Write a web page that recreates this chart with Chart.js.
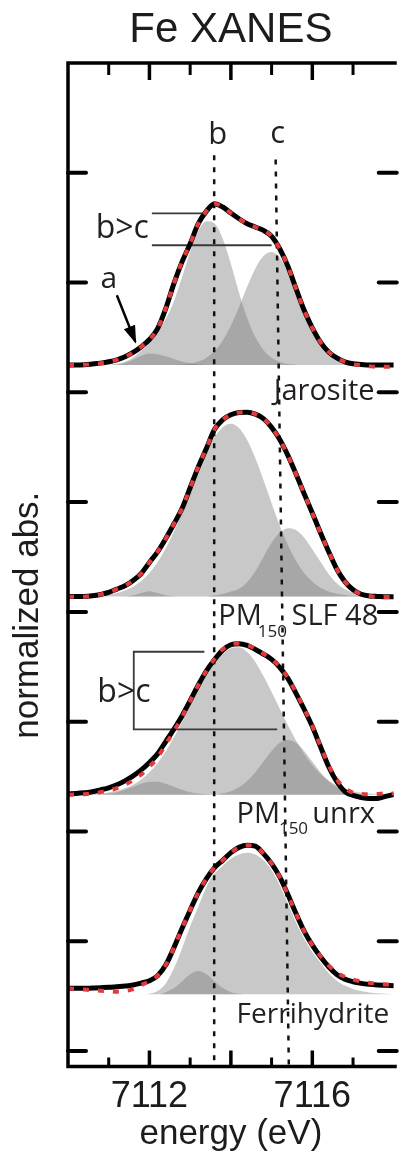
<!DOCTYPE html>
<html>
<head>
<meta charset="utf-8">
<title>Fe XANES</title>
<script src="https://cdn.jsdelivr.net/npm/chart.js@4.4.1/dist/chart.umd.min.js"></script>
<style>
  html, body { margin: 0; padding: 0; background: #fff; }
  canvas { display: block; }
</style>
</head>
<body>
<canvas id="xanesChart" width="406" height="1163"></canvas>
<script>
// energy grid (eV), shared by every trace
const energy = [7110, 7110.2, 7110.4, 7110.6, 7110.8, 7111, 7111.2, 7111.4, 7111.6, 7111.8,
  7112, 7112.2, 7112.4, 7112.6, 7112.8, 7113, 7113.2, 7113.4, 7113.6, 7113.8,
  7114, 7114.2, 7114.4, 7114.6, 7114.8, 7115, 7115.2, 7115.4, 7115.6, 7115.8,
  7116, 7116.2, 7116.4, 7116.6, 7116.8, 7117, 7117.2, 7117.4, 7117.6, 7117.8, 7118];

// vertical offset of each stacked spectrum (Jarosite, SLF 48, unrx, Ferrihydrite)
const panelOffsets = [6.248, 4.141, 2.334, 0.516];

// Jarosite
const jarositeData = [0, 0, 0.003, 0.01, 0.018, 0.03, 0.048, 0.076, 0.115, 0.167, 0.233, 0.333, 0.515, 0.742, 0.94, 1.106, 1.288, 1.403, 1.47, 1.44, 1.385, 1.333, 1.288, 1.258, 1.227, 1.173, 1.06, 0.9, 0.697, 0.5, 0.34, 0.21, 0.12, 0.065, 0.03, 0.012, 0.006, 0, 0, 0, 0];
const jarositeFit = [0, 0, 0.003, 0.01, 0.018, 0.03, 0.048, 0.076, 0.115, 0.167, 0.233, 0.333, 0.515, 0.742, 0.94, 1.106, 1.288, 1.403, 1.47, 1.44, 1.385, 1.333, 1.288, 1.258, 1.227, 1.173, 1.06, 0.9, 0.697, 0.5, 0.34, 0.21, 0.12, 0.065, 0.03, 0.008, 0, -0.01, -0.016, -0.016, -0.012];
const jarositeA = [0, 0, 0, 0, 0, 0, 0.005, 0.02, 0.05, 0.085, 0.106, 0.1, 0.08, 0.055, 0.032, 0.016, 0.007, 0.002, 0, 0, 0, 0, 0, 0, 0, 0, 0, 0, 0, 0, 0, 0, 0, 0, 0, 0, 0, 0, 0, 0, 0];
const jarositeB = [0, 0, 0, 0, 0, 0.004, 0.012, 0.03, 0.07, 0.13, 0.2, 0.3, 0.42, 0.58, 0.8, 1.03, 1.219, 1.31, 1.29, 1.15, 0.92, 0.66, 0.43, 0.255, 0.137, 0.066, 0.029, 0.011, 0.004, 0, 0, 0, 0, 0, 0, 0, 0, 0, 0, 0, 0];
const jarositeC = [0, 0, 0, 0, 0, 0, 0, 0, 0, 0, 0, 0, 0, 0, 0.005, 0.014, 0.032, 0.067, 0.128, 0.225, 0.36, 0.529, 0.713, 0.88, 0.994, 1.03, 0.977, 0.849, 0.677, 0.493, 0.33, 0.202, 0.113, 0.058, 0.028, 0.012, 0.005, 0, 0, 0, 0];

// PM150 SLF 48
const slfData = [0, 0, 0, 0.006, 0.018, 0.036, 0.067, 0.097, 0.145, 0.209, 0.31, 0.406, 0.527, 0.66, 0.8, 0.99, 1.18, 1.35, 1.523, 1.61, 1.655, 1.675, 1.678, 1.66, 1.62, 1.54, 1.43, 1.285, 1.115, 0.935, 0.76, 0.58, 0.41, 0.25, 0.135, 0.06, 0.02, 0.004, 0, -0.004, -0.004];
const slfFit = [-0.003, -0.004, -0.002, 0.006, 0.018, 0.036, 0.067, 0.097, 0.145, 0.209, 0.31, 0.406, 0.527, 0.66, 0.8, 0.99, 1.18, 1.35, 1.523, 1.61, 1.655, 1.675, 1.678, 1.66, 1.62, 1.54, 1.43, 1.285, 1.115, 0.935, 0.76, 0.58, 0.41, 0.25, 0.135, 0.06, 0.02, 0.004, -0.006, -0.006, -0.003];
const slfSmall = [0, 0, 0, 0, 0, 0, 0, 0, 0.011, 0.032, 0.048, 0.032, 0.011, 0.002, 0, 0, 0, 0, 0, 0, 0, 0, 0, 0, 0, 0, 0, 0, 0, 0, 0, 0, 0, 0, 0, 0, 0, 0, 0, 0, 0];
const slfMain = [0, 0.001, 0.002, 0.005, 0.009, 0.017, 0.031, 0.054, 0.088, 0.14, 0.213, 0.311, 0.437, 0.59, 0.766, 0.954, 1.142, 1.314, 1.452, 1.542, 1.573, 1.535, 1.425, 1.26, 1.06, 0.849, 0.647, 0.469, 0.324, 0.213, 0.133, 0.079, 0.045, 0.024, 0.012, 0.006, 0.002, 0, 0, 0, 0];
const slfC = [0, 0, 0, 0, 0, 0, 0, 0, 0, 0, 0, 0, 0, 0, 0, 0, 0, 0, 0.01, 0.022, 0.045, 0.07, 0.13, 0.23, 0.36, 0.49, 0.58, 0.622, 0.605, 0.535, 0.43, 0.315, 0.205, 0.12, 0.065, 0.032, 0.014, 0.005, 0, 0, 0];

// PM150 unrx
const unrxData = [0.009, 0.012, 0.018, 0.027, 0.045, 0.064, 0.091, 0.127, 0.173, 0.227, 0.294, 0.373, 0.485, 0.597, 0.718, 0.858, 1.0, 1.13, 1.233, 1.318, 1.367, 1.376, 1.361, 1.324, 1.282, 1.233, 1.161, 1.061, 0.924, 0.779, 0.621, 0.439, 0.258, 0.121, 0.03, -0.006, -0.024, -0.033, -0.033, -0.015, 0.003];
const unrxFit = [0, 0.003, 0.006, 0.012, 0.024, 0.039, 0.06, 0.091, 0.133, 0.185, 0.255, 0.34, 0.46, 0.58, 0.71, 0.855, 1.0, 1.13, 1.24, 1.325, 1.37, 1.378, 1.365, 1.33, 1.285, 1.235, 1.165, 1.065, 0.93, 0.785, 0.625, 0.445, 0.27, 0.14, 0.06, 0.02, 0.008, 0.006, 0.008, 0.012, 0.012];
const unrxSmall = [0, 0, 0, 0, 0, 0.011, 0.024, 0.045, 0.073, 0.101, 0.119, 0.119, 0.101, 0.073, 0.045, 0.024, 0.011, 0.004, 0, 0, 0, 0, 0, 0, 0, 0, 0, 0, 0, 0, 0, 0, 0, 0, 0, 0, 0, 0, 0, 0, 0];
const unrxMain = [0.001, 0.002, 0.004, 0.007, 0.012, 0.022, 0.036, 0.059, 0.092, 0.14, 0.205, 0.29, 0.395, 0.521, 0.663, 0.814, 0.966, 1.09, 1.195, 1.28, 1.335, 1.345, 1.3, 1.21, 1.081, 0.936, 0.783, 0.633, 0.494, 0.372, 0.271, 0.19, 0.129, 0.085, 0.054, 0.033, 0.019, 0.011, 0.006, 0.003, 0.002];
const unrxC = [0, 0, 0, 0, 0, 0, 0, 0, 0, 0, 0, 0, 0, 0, 0, 0, 0, 0, 0, 0.014, 0.033, 0.068, 0.125, 0.206, 0.303, 0.4, 0.473, 0.5, 0.473, 0.4, 0.303, 0.206, 0.125, 0.068, 0.033, 0.014, 0.005, 0, 0, 0, 0];

// Ferrihydrite
const ferriData = [0.055, 0.055, 0.055, 0.058, 0.061, 0.064, 0.07, 0.076, 0.085, 0.103, 0.124, 0.17, 0.267, 0.424, 0.6, 0.767, 0.927, 1.055, 1.155, 1.221, 1.291, 1.339, 1.358, 1.35, 1.282, 1.191, 1.07, 0.909, 0.736, 0.576, 0.448, 0.342, 0.252, 0.182, 0.139, 0.115, 0.1, 0.091, 0.085, 0.082, 0.079];
const ferriFit = [0.055, 0.05, 0.044, 0.038, 0.033, 0.03, 0.025, 0.03, 0.048, 0.085, 0.12, 0.17, 0.267, 0.424, 0.6, 0.767, 0.927, 1.055, 1.155, 1.221, 1.291, 1.339, 1.358, 1.35, 1.282, 1.191, 1.07, 0.909, 0.736, 0.576, 0.448, 0.35, 0.265, 0.2, 0.16, 0.135, 0.118, 0.105, 0.095, 0.09, 0.085];
const ferriSmall = [0, 0, 0, 0, 0, 0, 0, 0, 0, 0, 0, 0, 0.02, 0.057, 0.118, 0.183, 0.212, 0.183, 0.118, 0.057, 0.02, 0.005, 0, 0, 0, 0, 0, 0, 0, 0, 0, 0, 0, 0, 0, 0, 0, 0, 0, 0, 0];
const ferriMain = [0, 0, 0, 0, 0, 0, 0, 0, 0, 0, 0.006, 0.03, 0.1, 0.236, 0.418, 0.62, 0.8, 0.98, 1.1, 1.17, 1.235, 1.275, 1.291, 1.275, 1.221, 1.13, 0.994, 0.827, 0.655, 0.51, 0.385, 0.29, 0.195, 0.125, 0.08, 0.05, 0.03, 0.018, 0.01, 0.005, 0.002];

// guide lines b and c (energy, normalized abs.)
const bLineE = [7113.59, 7113.59];
const bLineV = [8.16, -0.3];
const cLineE = [7115.10, 7115.43];
const cLineV = [8.12, -0.3];

// b>c markers, bracket and arrow to feature a
const ratioTopE = [7112.06, 7113.36];
const ratioTopV = [7.63, 7.63];
const ratioLowE = [7112.06, 7115.0];
const ratioLowV = [7.34, 7.34];
const bracketE = [7113.35, 7111.615, 7111.615, 7115.137];
const bracketV = [3.637, 3.637, 2.93, 2.93];
const arrowE = [7111.2, 7111.655];
const arrowV = [6.885, 6.46];

// axes
const yTicks = [0, 1, 2, 3, 4, 5, 6, 7, 8];
const xMajorTicks = [7112, 7114, 7116];
const xMinorTicks = [7111, 7113, 7115, 7117];
const xTickLabels = [7112, 7116];

const colors = {
  curve: "#000000",
  fit: "#e3393c",
  component: "rgba(118, 118, 118, 0.4)",
  guide: "#111111",
  note: "#3a3a3a",
  text: "#231f20"
};

const labelFont = "'Open Sans', 'Noto Sans', sans-serif";
const axisFont = "'Liberation Sans', Arial, sans-serif";

const noteTexts = [
  { text: "b", e: 7113.68, v: 8.26, size: 31, align: "center" },
  { text: "c", e: 7115.15, v: 8.27, size: 31, align: "center" },
  { text: "b>c", e: 7110.68, v: 7.41, size: 32, align: "left" },
  { text: "a", e: 7111.0, v: 6.95, size: 30, align: "center" },
  { text: "Jarosite", e: 7115.05, v: 5.93, size: 29, align: "left" },
  { text: "PM", e: 7113.69, v: 3.88, size: 29, align: "left" },
  { text: "150", e: 7114.66, v: 3.77, size: 17, align: "left" },
  { text: "SLF 48", e: 7115.49, v: 3.88, size: 29, align: "left" },
  { text: "b>c", e: 7110.72, v: 3.18, size: 32, align: "left" },
  { text: "PM", e: 7114.14, v: 2.08, size: 29, align: "left" },
  { text: "150", e: 7115.18, v: 1.98, size: 17, align: "left" },
  { text: "unrx", e: 7116.0, v: 2.08, size: 29, align: "left" },
  { text: "Ferrihydrite", e: 7114.14, v: 0.255, size: 28, align: "left" }
];

function points(xs, ys, offset) {
  return xs.map(function (x, i) { return { x: x, y: offset + ys[i] }; });
}

function component(values, offset) {
  return {
    data: points(energy, values, offset),
    fill: { value: offset },
    backgroundColor: colors.component,
    borderColor: "rgba(0,0,0,0)",
    borderWidth: 0,
    pointRadius: 0,
    cubicInterpolationMode: "monotone",
    order: 6
  };
}

function curve(values, offset) {
  return {
    data: points(energy, values, offset),
    borderColor: colors.curve,
    borderWidth: 5,
    pointRadius: 0,
    fill: false,
    cubicInterpolationMode: "monotone",
    order: 2
  };
}

function fit(values, offset) {
  return {
    data: points(energy, values, offset),
    borderColor: colors.fit,
    borderWidth: 4,
    borderDash: [6, 9],
    pointRadius: 0,
    fill: false,
    cubicInterpolationMode: "monotone",
    order: 1
  };
}

function segment(xs, ys, color, width, dash, order) {
  return {
    data: points(xs, ys, 0),
    borderColor: color,
    borderWidth: width,
    borderDash: dash || [],
    pointRadius: 0,
    fill: false,
    tension: 0,
    order: order
  };
}

const datasets = [
  component(jarositeA, panelOffsets[0]),
  component(jarositeB, panelOffsets[0]),
  component(jarositeC, panelOffsets[0]),
  component(slfSmall, panelOffsets[1]),
  component(slfMain, panelOffsets[1]),
  component(slfC, panelOffsets[1]),
  component(unrxSmall, panelOffsets[2]),
  component(unrxMain, panelOffsets[2]),
  component(unrxC, panelOffsets[2]),
  component(ferriSmall, panelOffsets[3]),
  component(ferriMain, panelOffsets[3]),
  segment(bLineE, bLineV, colors.guide, 2.5, [5, 7], 4),
  segment(cLineE, cLineV, colors.guide, 2.5, [5, 7], 4),
  segment(ratioTopE, ratioTopV, colors.note, 1.8, null, 3),
  segment(ratioLowE, ratioLowV, colors.note, 1.8, null, 3),
  segment(bracketE, bracketV, colors.note, 1.8, null, 3),
  segment(arrowE, arrowV, colors.curve, 2.5, null, 3),
  curve(jarositeData, panelOffsets[0]),
  curve(slfData, panelOffsets[1]),
  curve(unrxData, panelOffsets[2]),
  curve(ferriData, panelOffsets[3]),
  fit(jarositeFit, panelOffsets[0]),
  fit(slfFit, panelOffsets[1]),
  fit(unrxFit, panelOffsets[2]),
  fit(ferriFit, panelOffsets[3])
];

function stroke(ctx, x0, y0, x1, y1) {
  ctx.beginPath();
  ctx.moveTo(x0, y0);
  ctx.lineTo(x1, y1);
  ctx.stroke();
}

// frame, inward ticks, arrow head and the text notes
const decorations = {
  id: "decorations",
  afterDatasetsDraw: function (chart) {
    const ctx = chart.ctx;
    const area = chart.chartArea;
    const x = chart.scales.x;
    const y = chart.scales.y;
    ctx.save();

    ctx.strokeStyle = "#000";
    ctx.lineWidth = 3.5;
    ctx.lineCap = "butt";
    ctx.beginPath();
    ctx.moveTo(area.right + 3, area.top);
    ctx.lineTo(area.left, area.top);
    ctx.lineTo(area.left, area.bottom);
    ctx.lineTo(area.right + 3, area.bottom);
    ctx.stroke();

    ctx.lineCap = "round";
    ctx.lineWidth = 4;
    yTicks.forEach(function (v) {
      const py = y.getPixelForValue(v);
      stroke(ctx, area.left, py, area.left + 18, py);
      stroke(ctx, area.right - 15, py, area.right + 3, py);
    });
    ctx.lineCap = "butt";
    ctx.lineWidth = 3.5;
    xMajorTicks.forEach(function (e) {
      const px = x.getPixelForValue(e);
      stroke(ctx, px, area.top, px, area.top + 17);
      stroke(ctx, px, area.bottom, px, area.bottom - 16);
    });
    ctx.lineWidth = 3;
    xMinorTicks.forEach(function (e) {
      const px = x.getPixelForValue(e);
      stroke(ctx, px, area.top, px, area.top + 12);
      stroke(ctx, px, area.bottom, px, area.bottom - 9);
    });

    // arrow head at the end of the arrow shaft
    const x0 = x.getPixelForValue(arrowE[0]), y0 = y.getPixelForValue(arrowV[0]);
    const x1 = x.getPixelForValue(arrowE[1]), y1 = y.getPixelForValue(arrowV[1]);
    const len = Math.hypot(x1 - x0, y1 - y0);
    const ux = (x1 - x0) / len, uy = (y1 - y0) / len;
    ctx.fillStyle = "#000";
    ctx.beginPath();
    ctx.moveTo(x1 + ux * 2, y1 + uy * 2);
    ctx.lineTo(x1 - ux * 16 - uy * 6, y1 - uy * 16 + ux * 6);
    ctx.lineTo(x1 - ux * 16 + uy * 6, y1 - uy * 16 - ux * 6);
    ctx.closePath();
    ctx.fill();

    ctx.fillStyle = colors.text;
    ctx.textBaseline = "alphabetic";
    noteTexts.forEach(function (t) {
      ctx.font = t.size + "px " + labelFont;
      ctx.textAlign = t.align;
      ctx.fillText(t.text, x.getPixelForValue(t.e), y.getPixelForValue(t.v));
    });

    // y axis title, rotated
    ctx.font = "35px " + axisFont;
    ctx.fillStyle = "#1c1c1c";
    ctx.textAlign = "center";
    ctx.translate(area.left - 30, y.getPixelForValue(3.97));
    ctx.rotate(-Math.PI / 2);
    ctx.fillText("normalized abs.", 0, 0);
    ctx.restore();
  }
};

new Chart(document.getElementById("xanesChart"), {
  type: "line",
  data: { datasets: datasets },
  options: {
    responsive: false,
    animation: false,
    devicePixelRatio: 1,
    layout: { padding: { left: 68, right: 0, top: 0, bottom: 0 } },
    plugins: {
      legend: { display: false },
      tooltip: { enabled: false },
      title: {
        display: true,
        text: "Fe XANES",
        fullSize: false,
        color: "#1c1c1c",
        font: { family: axisFont, size: 42, weight: "normal", lineHeight: 1.2 },
        padding: { top: 5, bottom: 7.6 }
      }
    },
    scales: {
      x: {
        type: "linear",
        min: 7110,
        max: 7118,
        afterBuildTicks: function (scale) {
          scale.ticks = [7110, 7111, 7112, 7113, 7114, 7115, 7116, 7117, 7118].map(function (v) { return { value: v }; });
        },
        grid: { display: false, drawTicks: false },
        border: { display: false },
        ticks: {
          autoSkip: false,
          maxRotation: 0,
          padding: 12.25,
          color: "#1c1c1c",
          font: { family: axisFont, size: 36, lineHeight: 1 },
          callback: function (value) {
            return xTickLabels.indexOf(value) >= 0 ? String(value) : "";
          }
        },
        title: {
          display: true,
          text: "energy (eV)",
          color: "#1c1c1c",
          font: { family: axisFont, size: 35, lineHeight: 0.4 },
          padding: { top: 0, bottom: 22 }
        }
      },
      y: {
        type: "linear",
        display: false,
        min: -0.141,
        max: 9
      }
    }
  },
  plugins: [decorations]
});
</script>
</body>
</html>
